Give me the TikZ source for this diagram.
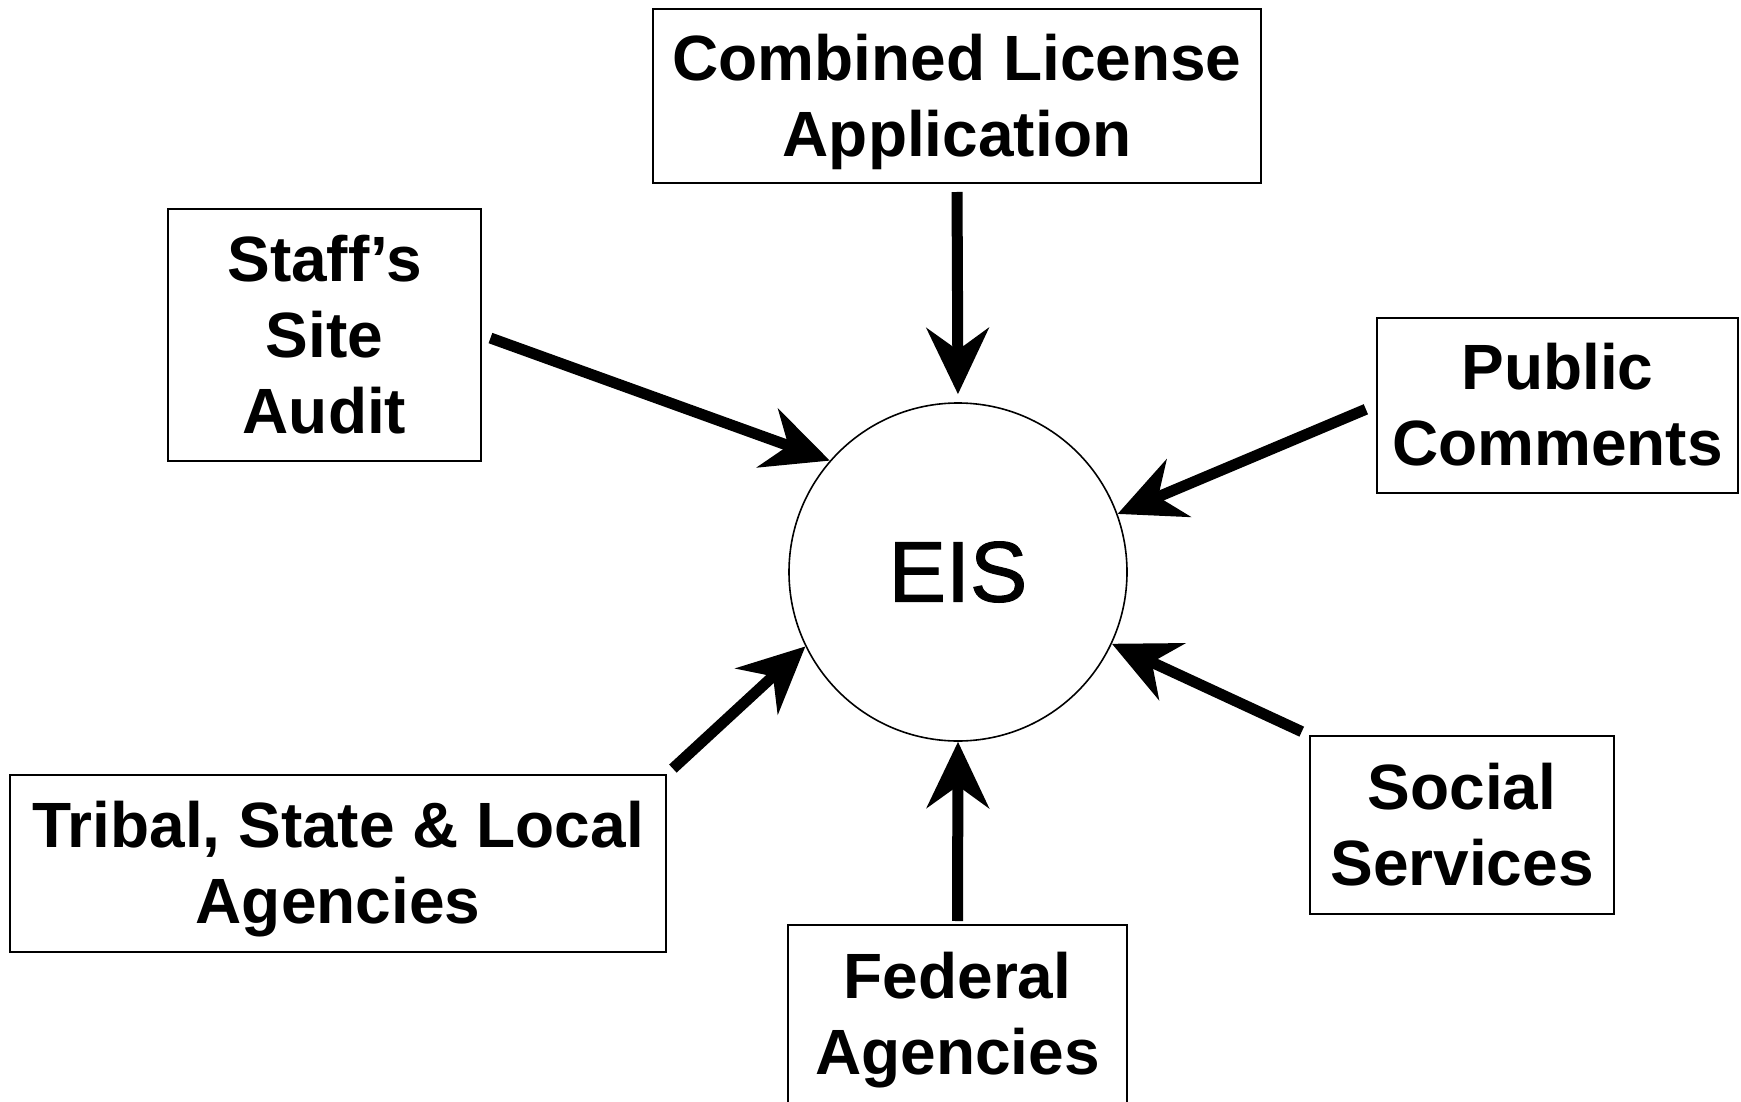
\documentclass[tikz,border=0pt]{standalone}
\usepackage{fontspec}
\setmainfont{Liberation Sans}
\newfontfamily\eisfont[FakeBold=1.3]{Liberation Sans}
\usetikzlibrary{arrows.meta}
\begin{document}
\begin{tikzpicture}[x=1pt,y=-1pt,
  srcbox/.style={draw, line width=2pt, rectangle, align=center, inner sep=0pt,
    font=\bfseries\fontsize{64}{76}\selectfont},
  hub/.style={draw, circle, line width=1.6pt, inner sep=0pt, minimum size=338pt,
    font=\eisfont\fontsize{86}{90}\selectfont},
  feed/.style={line width=11pt, -{Stealth[length=66pt,width=62pt,inset=22pt]}}]
\useasboundingbox (0,0) rectangle (1741,1102);
\clip (0,0) rectangle (1741,1102);
\fill[white] (0,0) rectangle (1741,1102);

\node[hub] (eis) at (958,572) {EIS};

\node[srcbox, minimum width=608pt, minimum height=174pt] (cla) at (957,96) {\rule{0pt}{58pt}Combined License\\Application};
\node[srcbox, minimum width=313pt, minimum height=252pt] (stf) at (324.5,335) {Staff’s\\Site\\Audit};
\node[srcbox, minimum width=361pt, minimum height=175pt] (pub) at (1557.5,405) {Public\\Comments};
\node[srcbox, minimum width=656pt, minimum height=177pt] (trb) at (338,863.5) {\rule{0pt}{58pt}Tribal, State \& Local\\Agencies};
\node[srcbox, minimum width=339pt, minimum height=190pt] (fed) at (957.5,1020) {Federal\\Agencies};
\node[srcbox, minimum width=304pt, minimum height=178pt] (soc) at (1462,825) {Social\\Services};

\draw[feed, shorten <=8pt, shorten >=8pt] (cla.south) -- (eis.north);
\draw[feed, shorten <=9pt] (stf.east) -- (eis.139);
\draw[feed, shorten <=11pt] (pub.west) -- (eis.20);
\draw[feed, shorten <=8pt] (trb.north east) -- (eis.206);
\draw[feed, shorten <=8pt] (soc.north west) -- (eis.-25);
\draw[feed, shorten <=3pt] (fed.north) -- (eis.south);
\end{tikzpicture}
\end{document}
